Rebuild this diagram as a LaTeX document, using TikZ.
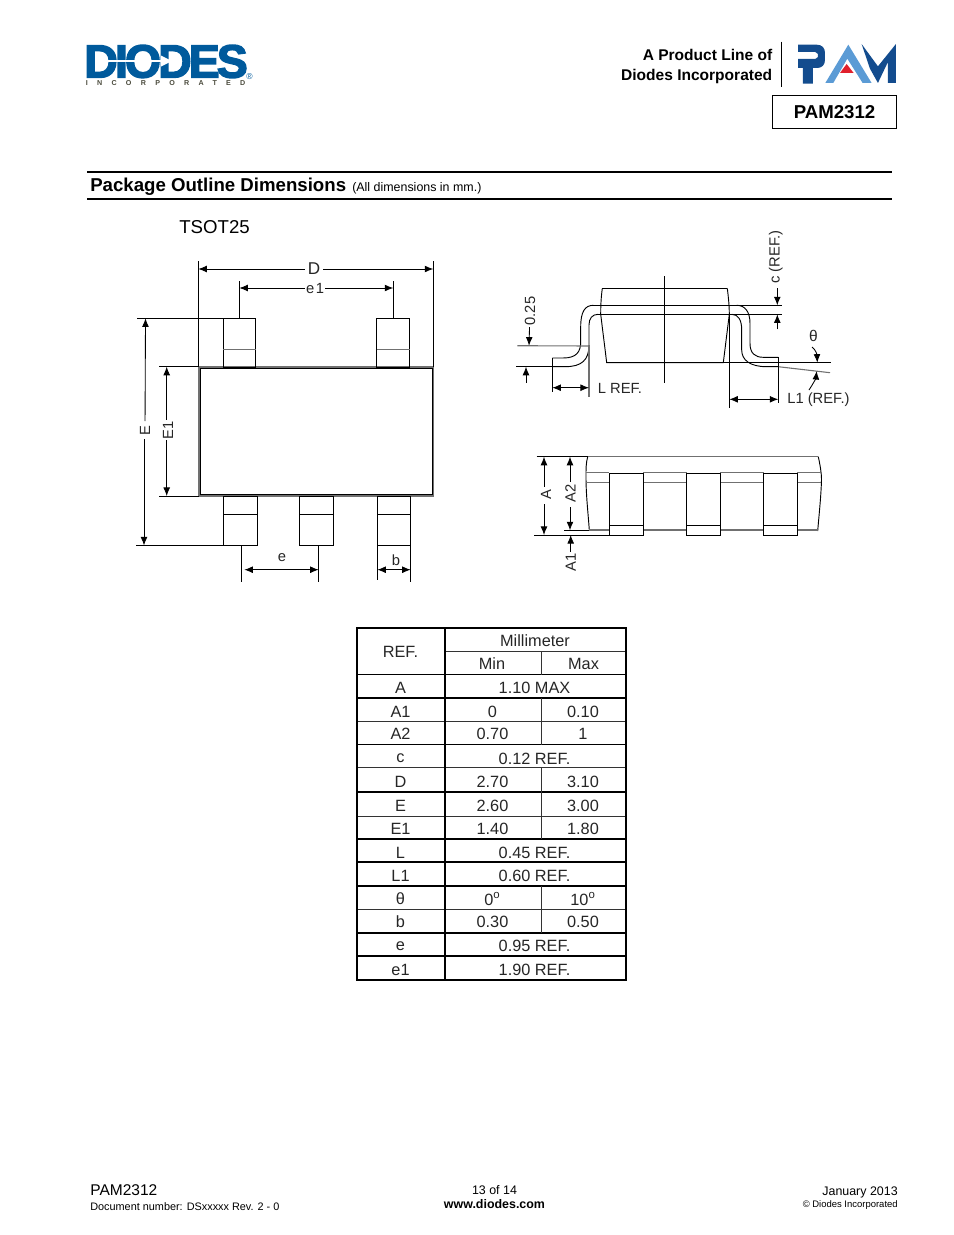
\documentclass[tikz,border=0pt]{standalone}
\usepackage{fontspec}
\setmainfont{Liberation Sans}
\newfontfamily\logofont[BoldFeatures={FakeBold=3},LetterSpace=-6.5]{Liberation Sans}
\newfontfamily\incfont[LetterSpace=130]{Liberation Sans}
\usetikzlibrary{arrows.meta,positioning}
\definecolor{diodesblue}{HTML}{005A9C}
\definecolor{pamdark}{HTML}{134C8E}
\definecolor{pamlight}{HTML}{5B9BD5}
\definecolor{pamred}{HTML}{E0202C}
\definecolor{incgray}{HTML}{4A4A3C}
\definecolor{leadgray}{HTML}{707070}
\tikzset{
    >={Latex[length=5.5pt,width=4.4pt]},
    outline/.style={line width=0.6pt, black},
    grayline/.style={line width=0.7pt, leadgray},
    dimline/.style={line width=0.55pt, black},
    dimtext/.style={font=\fontsize{9.5}{11}\selectfont, inner sep=1pt, text=black!85},
    tablethick/.style={line width=1.25pt, black},
    tablethin/.style={line width=0.6pt, black!80},
    celltext/.style={font=\fontsize{10.5}{12}\selectfont, inner sep=0pt, text=black!85}
}
\begin{document}
\begin{tikzpicture}[x=0.02263cm, y=-0.02263cm]
    \useasboundingbox (0,0) rectangle (954,1235);
    % logo left
    \node[anchor=base west, inner sep=0pt, text depth=0pt, text=diodesblue] (diodesword) at (84,77.5)
        {\logofont\fontsize{30}{30}\bfseries\selectfont DIODES};
    \draw[white, line width=1pt] (95,61) -- (164,61);
    \fill[white] (172,61) -- (161,55.5) -- (161,66.5) -- cycle;
    \node[anchor=base west, inner sep=0pt, text height=3pt, text depth=0pt, text=incgray] (diodesinc) at (85.5,85)
        {\incfont\fontsize{4.6}{5}\bfseries\selectfont INCORPORATED};
    \node[anchor=center, inner sep=0pt, text=diodesblue, font=\fontsize{5.5}{6}\selectfont] (diodesreg) at (249.5,77) {®};
    % logo right
    \node[anchor=base east, inner sep=0pt, font=\fontsize{10}{12}\bfseries\selectfont] (lineof) at (772.5,60) {A Product Line of};
    \node[anchor=base east, inner sep=0pt, font=\fontsize{10}{12}\bfseries\selectfont] (lineinc) at (772.5,80) {Diodes Incorporated};
    \draw[line width=0.6pt] (781.3,41.7) -- (781.3,86.7);
    \begin{scope}[shift={(790,38)}, x=0.00754cm, y=-0.00754cm]
        \fill[pamdark] (24,20) -- (80,20) .. controls (96,20) and (105,30) .. (105,44) -- (105,66)
            .. controls (105,80) and (96,90) .. (82,90) -- (69,90) -- (69,137) -- (39,137) -- (39,90) -- (24,90)
            -- (24,63) -- (76,63) -- (84,57) -- (84,48) -- (76,42) -- (24,42) -- cycle;
        \fill[pamlight] (175,20) -- (245,135) -- (218,135) -- (172,62) -- (130,135) -- (106,135) -- cycle;
        \fill[pamred] (170,78) -- (191,105) -- (150,105) -- cycle;
        \fill[pamdark] (215,18) -- (264,85) -- (318,18) -- (318,135) -- (294,135) -- (294,72) -- (264,135) -- (240,92) -- cycle;
    \end{scope}
    \node[draw, line width=0.9pt, inner sep=0pt, font=\fontsize{12}{14}\bfseries\selectfont,
        minimum width=79.5pt, minimum height=21pt] (partbox) at (834.5,112) {PAM2312};
    % section title
    \draw[line width=1.25pt] (87,171.7) -- (892,171.7);
    \draw[line width=1.25pt] (87,199) -- (892,199);
    \node[anchor=base west, inner sep=0pt, font=\fontsize{12}{14}\bfseries\selectfont] (sectitle) at (90,191) {Package Outline Dimensions};
    \node[anchor=base west, inner sep=0pt, font=\fontsize{8}{10}\selectfont] (secnote) at (352,191) {(All dimensions in mm.)};
    \node[anchor=base west, inner sep=0pt, font=\fontsize{12}{14}\selectfont] (pkgname) at (179,233) {TSOT25};
    % top view
    \draw[leadgray, line width=1.1pt] (199.3,367) rectangle (433,495.8);
    \draw[outline] (200.6,368) rectangle (432.4,494.6);
    \draw[outline] (198.3,261) -- (198.3,367);
    \draw[outline] (433.3,261) -- (433.3,367);
    \draw[outline] (239.3,281) -- (239.3,318.3);
    \draw[outline] (393.3,281) -- (393.3,318.3);
    \foreach \xa/\xb in {223.4/255.7, 376.8/409.7} {
        \draw[outline] (\xa,367) rectangle (\xb,318.3);
        \draw[grayline] (\xa,349.3) -- (\xb,349.3);
    }
    \foreach \xa/\xb in {223.4/257.3, 299.3/333, 377.3/410.7} {
        \draw[outline] (\xa,496) rectangle (\xb,545.5);
        \draw[outline] (\xa,514) -- (\xb,514);
    }
    \draw[outline] (137,318.3) -- (223.4,318.3);
    \draw[outline] (159.3,366.7) -- (198.3,366.7);
    \draw[outline] (136,545.5) -- (223.4,545.5);
    \draw[outline] (159.3,496) -- (199.3,496);
    \draw[outline] (241.3,545.5) -- (241.3,581.7);
    \draw[outline] (318.7,545.5) -- (318.7,581.7);
    \draw[outline] (377.3,545.5) -- (377.3,580);
    \draw[outline] (410.7,545.5) -- (410.7,581.7);
    \node[dimtext, font=\fontsize{11}{12}\selectfont, inner sep=1.5pt] (lblD) at (314,269) {D};
    \draw[dimline,<-] (198.3,269) -- (lblD);
    \draw[dimline,<-] (433.3,269) -- (lblD);
    \node[dimtext, inner sep=0.5pt] (lbleone) at (315,288) {e\kern1pt1};
    \draw[dimline,<-] (239.3,288) -- (lbleone);
    \draw[dimline,<-] (393.3,288) -- (lbleone);
    \node[dimtext, rotate=90, inner sep=3pt] (lblE) at (145,431) {E};
    \draw[dimline,<-] (145.5,318.3) -- (lblE);
    \draw[dimline,<-] (144,545.5) -- (144,439);
    \node[dimtext, rotate=90, inner sep=3pt] (lblEone) at (168,430) {E1};
    \draw[dimline,<-] (166.7,366.7) -- (166.7,420);
    \draw[dimline,<-] (166.7,496) -- (166.7,440);
    \node[dimtext] (lble) at (282,558) {e};
    \draw[dimline,<->] (244.3,569.7) -- (318.7,569.7);
    \node[dimtext] (lblb) at (396,560) {b};
    \draw[dimline,<->] (377.3,569.7) -- (410.7,569.7);
    % side view
    \draw[outline] (602.3,288.3) -- (727.3,288.3);
    \draw[outline] (602.3,288.3) .. controls (601,298) and (600.7,306) .. (600.7,314.3) -- (606.7,362.7) -- (723.3,362.7)
        -- (729.3,314.3) .. controls (729.3,306) and (728.5,298) .. (727.3,288.3);
    \draw[outline] (664.3,276) -- (664.3,382.7);
    \draw[outline] (723.3,362.7) -- (830.7,362.7);
    \draw[outline] (593.3,305.3) -- (781.7,305.3);
    \draw[outline] (598.3,314.3) -- (781.7,314.3);
    \draw[outline] (552.3,358) -- (563,358) .. controls (576.7,358) and (580.7,351.7) .. (580.7,341.7) -- (580.7,326.7)
        .. controls (580.7,311.7) and (585,305.3) .. (593.3,305.3);
    \draw[outline] (552.3,366.7) -- (565,366.7) .. controls (581.7,366.7) and (589,360) .. (589,345) -- (589,325)
        .. controls (589,318.3) and (592.3,314.3) .. (598.3,314.3);
    \draw[outline] (736.7,305.3) .. controls (745,305.3) and (750,311.7) .. (750,323.3) -- (750,343.3)
        .. controls (750,353.3) and (755,357.3) .. (763.3,357.3) -- (778.3,357.3);
    \draw[outline] (731.7,314.3) .. controls (738.3,314.3) and (741.7,320) .. (741.7,330) -- (741.7,350)
        .. controls (741.7,360) and (750,366.7) .. (766.7,366.7) -- (778.3,366.7);
    \draw[grayline] (778.3,366.7) -- (830,372.7);
    \draw[grayline] (517.3,345.7) -- (589,346);
    \draw[outline] (516,366.7) -- (552.3,366.7);
    \draw[grayline] (589,345) -- (589,396.7);
    \draw[outline] (552.3,358) -- (552.3,392);
    \draw[outline] (778.3,357.3) -- (778.3,403);
    \draw[outline] (729.3,314.3) -- (729.3,407.7);
    \node[dimtext, rotate=90] (lblzero) at (530,311) {0.25};
    \draw[dimline,<-] (529,345.7) -- (lblzero);
    \coordinate (ltail) at (526,382.7);
    \draw[dimline,->] (ltail) -- (526,366.7);
    \draw[dimline,<->] (552.3,387.7) -- (589,387.7);
    \node[dimtext, anchor=west, inner sep=0pt] (lblL) at (597.5,388) {L REF.};
    \draw[dimline,<->] (729.3,399.3) -- (778.3,399.3);
    \node[dimtext, anchor=west, inner sep=0pt] (lblLone) at (787,400) {L1 (REF.)};
    \node[dimtext, font=\fontsize{10}{12}\selectfont] (lbltheta) at (813.5,336) {θ};
    \draw[dimline,->] (812,347) .. controls (816,350) and (817,355) .. (817.3,362.7);
    \draw[dimline,->] (809,390) .. controls (813,384) and (816,378) .. (816.7,371);
    \node[dimtext, rotate=90] (lblc) at (775.7,257) {c (REF.)};
    \draw[dimline,<-] (777.3,305.3) -- (777.3,288.3);
    \coordinate (ctail) at (777.3,329.3);
    \draw[dimline,->] (ctail) -- (777.3,314.3);
    % end view
    \draw[grayline] (587.7,456.7) -- (818.3,456.7);
    \draw[outline] (587.7,456.7) .. controls (586,463) and (586,468) .. (586,477) .. controls (586,495) and (588,512) .. (589.3,530);
    \draw[outline] (818.3,456.7) .. controls (820,465) and (821.5,472) .. (821.5,480) .. controls (821,497) and (819,515) .. (817.7,531);
    \draw[grayline] (586,472.7) -- (609.3,472.7);
    \draw[grayline] (586,482.3) -- (609.3,482.3);
    \draw[grayline] (589.3,530) -- (609.3,530);
    \foreach \xa/\xb in {643.3/686.7, 720.3/763.7, 797.3/820.5} {
        \draw[grayline] (\xa,472.7) -- (\xb,472.7);
        \draw[grayline] (\xa,482.3) -- (\xb,482.3);
    }
    \foreach \xa/\xb in {643.3/686.7, 720.3/763.7, 797.3/817.7}
        \draw[grayline] (\xa,530) -- (\xb,530);
    \foreach \xa/\xb in {609.3/643.3, 686.7/720.3, 763.7/797.3} {
        \draw[outline] (\xa,473.3) rectangle (\xb,535);
        \draw[outline] (\xa,525.3) -- (\xb,525.3);
    }
    \draw[outline] (536.7,456.7) -- (587.7,456.7);
    \draw[outline] (534,535) -- (609.3,535);
    \draw[outline] (564,530.3) -- (589.3,530.3);
    \node[dimtext, rotate=90, inner sep=3pt] (lblA) at (546,495) {A};
    \draw[dimline,<-] (544,456.7) -- (544,487);
    \draw[dimline,<-] (544,535) -- (544,504);
    \node[dimtext, rotate=90, inner sep=3pt] (lblAtwo) at (570.5,493) {A2};
    \draw[dimline,<-] (570,456.7) -- (570,481.7);
    \draw[dimline,<-] (570,530.3) -- (570,507);
    \node[dimtext, rotate=90, inner sep=1pt] (lblAone) at (570.7,562.5) {A1};
    \draw[dimline,<-] (570.7,535) -- (lblAone);
    % table
    \foreach \ya in {628, 674.5, 698, 744.5, 792, 839, 862, 886, 933, 956, 980}
        \draw[tablethick] (357,\ya) -- (626,\ya);
    \foreach \ya in {721.7, 767, 816, 909.5}
        \draw[tablethin] (357,\ya) -- (626,\ya);
    \draw[tablethin] (444.8,651.7) -- (626,651.7);
    \draw[tablethick] (357,627.4) -- (357,981);
    \draw[tablethick] (444.8,627.4) -- (444.8,981);
    \draw[tablethick] (626,627.4) -- (626,981);
    \draw[tablethin] (541,651.7) -- (541,674.5);
    \draw[tablethin] (541,698) -- (541,744.5);
    \draw[tablethin] (541,767) -- (541,839);
    \draw[tablethin] (541,886) -- (541,933);
    \node[celltext] (hdrref) at (400.5,652) {REF.};
    \node[celltext] (hdrmm) at (535,640.5) {Millimeter};
    \node[celltext] (hdrmin) at (492,664) {Min};
    \node[celltext] (hdrmax) at (583.5,664) {Max};
    \foreach \rname/\ya/\txt in {a/687.5/A, aone/711.5/A1, atwo/734/A2, c/758.5/c, d/781.5/D, e/805.5/E, eone/828.5/E1,
        l/852.5/L, lone/875.5/L1, th/899/θ, b/922/b, ee/946/e, eeone/969.5/e1}
        \node[celltext] (ref\rname) at (400.5,\ya) {\txt};
    \foreach \rname/\ya/\txt in {a/687.5/1.10 MAX, c/758.5/0.12 REF., l/852.5/0.45 REF., lone/875.5/0.60 REF.,
        ee/946/0.95 REF., eeone/969.5/1.90 REF.}
        \node[celltext] (span\rname) at (534.5,\ya) {\txt};
    \foreach \rname/\ya/\tmin/\tmax in {aone/711.5/0/0.10, atwo/734/0.70/1, d/781.5/2.70/3.10, e/805.5/2.60/3.00,
        eone/828.5/1.40/1.80, th/899/0\textsuperscript{o}/10\textsuperscript{o}, b/922/0.30/0.50} {
        \node[celltext] (min\rname) at (492.5,\ya) {\tmin};
        \node[celltext] (max\rname) at (583,\ya) {\tmax};
    }
    % footer
    \node[anchor=base west, inner sep=0pt, font=\fontsize{10}{12}\selectfont] (footpart) at (90,1195.5) {PAM2312};
    \node[anchor=base west, inner sep=0pt, font=\fontsize{7}{9}\selectfont] (footdoc) at (90,1210) {Document number: DSxxxxx Rev. 2 - 0};
    \node[anchor=base, inner sep=0pt, font=\fontsize{8}{10}\selectfont] (footpage) at (494.5,1194) {13 of 14};
    \node[anchor=base, inner sep=0pt, font=\fontsize{8}{10}\bfseries\selectfont] (footweb) at (494.5,1208) {www.diodes.com};
    \node[anchor=base east, inner sep=0pt, font=\fontsize{8}{10}\selectfont] (footdate) at (898,1195) {January 2013};
    \node[anchor=base east, inner sep=0pt, font=\fontsize{6.1}{8}\selectfont] (footcopy) at (898,1207) {© Diodes Incorporated};
\end{tikzpicture}
\end{document}
